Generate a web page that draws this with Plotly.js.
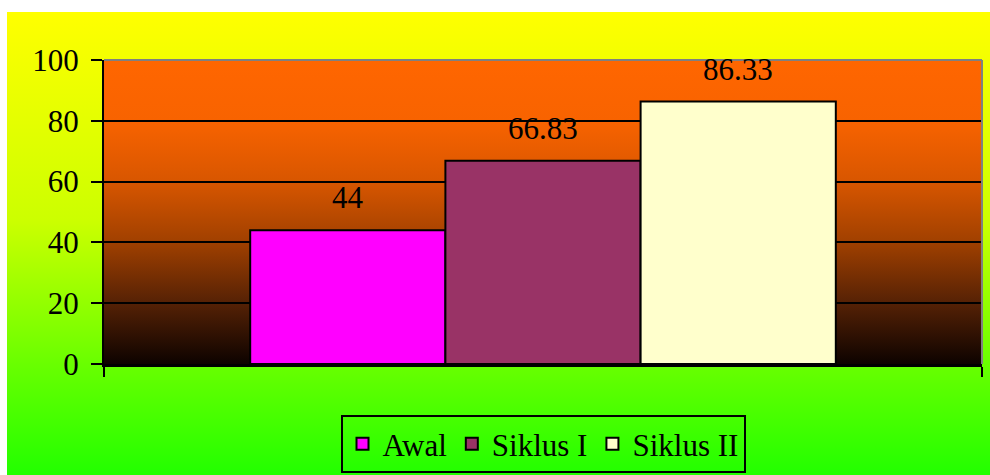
<!DOCTYPE html>
<html><head><meta charset="utf-8">
<script src="https://cdn.plot.ly/plotly-3.0.1.min.js"></script>
<style>
html,body{margin:0;padding:0;background:#ffffff;}
#bg{position:absolute;left:7px;top:12px;width:983px;height:463px;background:linear-gradient(to bottom,#FFFF00 0%,#CCFF00 45%,#66FF00 77%,#22FF00 100%);}
#chart{position:absolute;left:0;top:0;width:990px;height:475px;}
</style></head><body>
<div id="bg"></div><div id="chart"></div>
<script>
const categories = ['Nilai'];
const seriesNames = ['Awal', 'Siklus I', 'Siklus II'];
const awal = [44];
const siklus1 = [66.83];
const siklus2 = [86.33];
const seriesValues = [awal, siklus1, siklus2];
const seriesColors = ['#FF00FF', '#993366', '#FFFFCC'];
const yTickVals = [0, 20, 40, 60, 80, 100];
const yTickText = ['0', '20', '40', '60', '80', '100'];

const FONT = 'Liberation Serif, Times New Roman, serif';
const bargap = 0.333;

const traces = seriesNames.map((name, i) => ({
  type: 'bar',
  name: name,
  x: categories,
  y: seriesValues[i],
  marker: {color: seriesColors[i], line: {color: '#000000', width: 2}},
  hoverinfo: 'skip'
}));

const annotations = [];
seriesValues.forEach((vals, i) => {
  vals.forEach((v, j) => {
    annotations.push({
      xref: 'x', yref: 'y',
      x: j + (i - (seriesValues.length - 1) / 2) * (1 - bargap) / seriesValues.length,
      y: v,
      text: String(v),
      showarrow: false,
      yanchor: 'bottom',
      yshift: 13,
      font: {family: FONT, size: 31, color: '#000000'}
    });
  });
});

const gradSvg = '<svg xmlns="http://www.w3.org/2000/svg" width="100" height="100" preserveAspectRatio="none">' +
  '<defs><linearGradient id="g" x1="0" y1="0" x2="0" y2="1">' +
  '<stop offset="0" stop-color="#FF6600"/>' +
  '<stop offset="0.2" stop-color="#F86300"/>' +
  '<stop offset="0.4" stop-color="#D85600"/>' +
  '<stop offset="0.6" stop-color="#A04000"/>' +
  '<stop offset="0.8" stop-color="#552105"/>' +
  '<stop offset="1" stop-color="#0D0300"/>' +
  '</linearGradient></defs><rect width="100" height="100" fill="url(#g)"/></svg>';

const layout = {
  width: 990, height: 475,
  margin: {l: 104, r: 8, t: 60, b: 111, pad: 0, autoexpand: false},
  paper_bgcolor: 'rgba(0,0,0,0)',
  plot_bgcolor: 'rgba(0,0,0,0)',
  barmode: 'group',
  bargap: bargap,
  bargroupgap: 0,
  showlegend: true,
  font: {family: FONT, size: 31, color: '#000000'},
  xaxis: {
    type: 'category',
    showticklabels: false,
    ticks: 'outside',
    tickson: 'boundaries',
    ticklen: 10,
    tickwidth: 2,
    tickcolor: '#000000',
    showgrid: false,
    showline: true,
    linecolor: '#000000',
    linewidth: 3,
    fixedrange: true
  },
  yaxis: {
    range: [0, 100],
    tickvals: yTickVals,
    ticktext: yTickText,
    ticks: 'outside',
    ticklen: 11,
    tickwidth: 2,
    tickcolor: '#000000',
    ticklabelstandoff: 6,
    tickfont: {family: FONT, size: 31, color: '#000000'},
    showgrid: true,
    gridcolor: '#000000',
    gridwidth: 2,
    zeroline: false,
    showline: true,
    linecolor: '#000000',
    linewidth: 2,
    fixedrange: true
  },
  legend: {
    orientation: 'h',
    x: 0.5, xanchor: 'center',
    y: -0.3586, yanchor: 'bottom',
    bgcolor: 'rgba(0,0,0,0)',
    bordercolor: '#000000',
    borderwidth: 2,
    font: {family: FONT, size: 31, color: '#000000'},
    itemclick: false, itemdoubleclick: false
  },
  images: [{
    source: 'data:image/svg+xml;charset=utf-8,' + encodeURIComponent(gradSvg),
    xref: 'paper', yref: 'paper',
    x: 0, y: 1, sizex: 1, sizey: 1,
    xanchor: 'left', yanchor: 'top',
    sizing: 'stretch',
    layer: 'below'
  }],
  shapes: [
    {type: 'line', xref: 'paper', yref: 'paper', x0: 0, x1: 1, y0: 1, y1: 1, line: {color: '#808080', width: 2}},
    {type: 'line', xref: 'paper', yref: 'paper', x0: 1, x1: 1, y0: 0, y1: 1, line: {color: '#808080', width: 2}}
  ],
  annotations: annotations
};

Plotly.newPlot('chart', traces, layout, {displayModeBar: false, staticPlot: true});
</script>
</body></html>
